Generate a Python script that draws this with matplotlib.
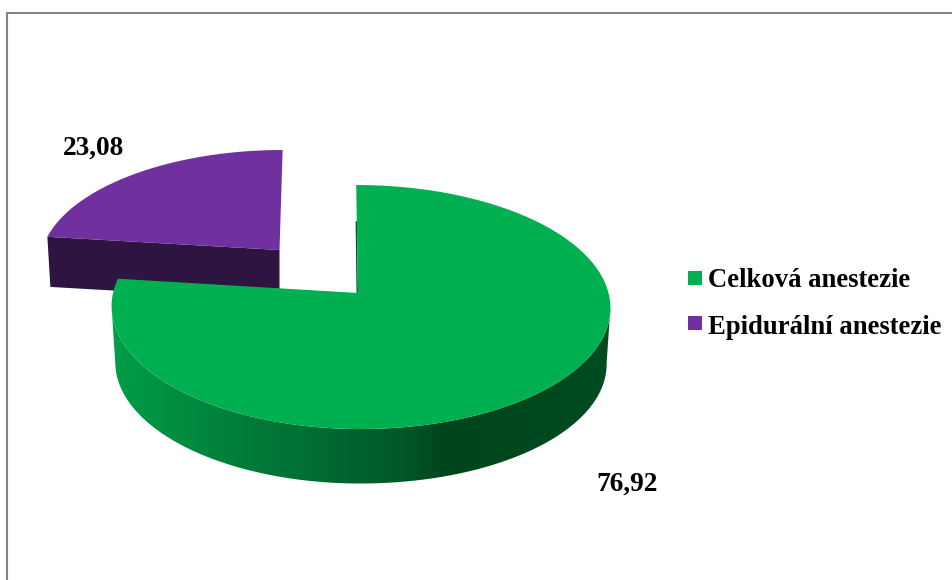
import numpy as np
import matplotlib
matplotlib.use("Agg")
import matplotlib.pyplot as plt
from matplotlib.colors import LinearSegmentedColormap
from matplotlib.patches import Polygon, Rectangle

categories = ["Celková anestezie", "Epidurální anestezie"]
values = [76.92, 23.08]
top_colors = ["#00B050", "#7030A0"]

W, H = 953, 580
plt.rcParams["font.family"] = ["Liberation Serif", "DejaVu Serif"]
fig = plt.figure(figsize=(W / 100, H / 100), dpi=100)
ax = fig.add_axes([0, 0, 1, 1])
ax.set_xlim(0, W)
ax.set_ylim(H, 0)
ax.axis("off")

# Perspective strength of the tilted pie plane
K = 0.115


def project(theta, apex, a_left, a_right, b, tilt=0.0, scale=1.0, drop=0.0):
    """Map clockwise-from-north angles (degrees) on the pie plane to the canvas."""
    t = np.radians(np.asarray(theta, dtype=float))
    u, v = np.sin(t), np.cos(t)
    w = 1 + K * v
    a = np.where(u < 0, a_left, a_right)
    x = apex[0] + scale * (a * u + tilt * v) / w
    y = apex[1] + drop - scale * b * v / w
    return x, y


def sector(theta0, theta1, geom, n=240):
    theta = np.linspace(theta0, theta1, n)
    x, y = project(theta, **geom)
    ax0, ay0 = geom["apex"][0], geom["apex"][1] + geom.get("drop", 0.0)
    return np.column_stack([np.r_[ax0, x], np.r_[ay0, y]])


# Slice angles follow the values
total = sum(values)
sweep_green = 360 * values[0] / total
sweep_purple = 360 * values[1] / total

green = dict(apex=(358, 293), a_left=245, a_right=250.5, b=120.4, tilt=-2.0)
purple = dict(apex=(279.5, 250), a_left=237.5, a_right=237.5, b=111.5, tilt=3.5)

# Purple slice: dark cut face first, then its top
px0, py0 = project(sweep_green, **purple)
px1, py1 = project(sweep_green, scale=0.987, drop=50, **purple)
cut = [(px0, py0), (purple["apex"][0], purple["apex"][1]),
       (purple["apex"][0], purple["apex"][1] + 50), (px1, py1)]
ax.add_patch(Polygon(cut, closed=True, fc="#2E1440", ec="none", zorder=2))
ax.add_patch(Polygon(sector(sweep_green, sweep_green + sweep_purple, purple),
                     closed=True, fc=top_colors[1], ec="none", zorder=3))

# Green slice: shaded rim with a horizontal gradient
rim_theta = np.linspace(96.6, 263.4, 300)
tx, ty = project(rim_theta, **green)
bx, by = project(rim_theta, scale=0.985, drop=56.5, **green)
rim = Polygon(np.column_stack([np.r_[tx, bx[::-1]], np.r_[ty, by[::-1]]]),
              closed=True, transform=ax.transData, fc="none", ec="none", zorder=4)
ax.add_patch(rim)
xs0, xs1 = 108.0, 612.0
stops = [(108, "#009E49"), (200, "#00873D"), (300, "#007033"),
         (400, "#005828"), (445, "#00451D"), (612, "#004C21")]
cmap = LinearSegmentedColormap.from_list(
    "rim", [((s - xs0) / (xs1 - xs0), c) for s, c in stops])
gradient = np.linspace(0, 1, 512).reshape(1, -1)
im = ax.imshow(gradient, cmap=cmap, extent=(xs0, xs1, 500, 280),
               aspect="auto", interpolation="bilinear", zorder=4)
im.set_clip_path(rim)
ax.set_xlim(0, W)
ax.set_ylim(H, 0)

ax.add_patch(Polygon(sector(0, sweep_green, green), closed=True,
                     fc=top_colors[0], ec="none", zorder=5))

# Sliver of the far cut face beside the apex
sx, sy = project(0, **green)
ax.plot([green["apex"][0] - 0.8, (green["apex"][0] + 2 * sx) / 3 - 0.5],
        [green["apex"][1], (green["apex"][1] + 2 * sy) / 3 + 1],
        color="#00562A", lw=1.0, zorder=4.5)

# Value labels
label_font = dict(fontweight="bold", fontsize=19.7, color="black", zorder=6)
ax.text(63, 155, f"{values[1]:.2f}".replace(".", ","), ha="left", va="baseline", **label_font)
ax.text(596, 491, f"{values[0]:.2f}".replace(".", ","), ha="left", va="baseline", **label_font)

# Legend entries
legend_font = dict(fontweight="bold", fontsize=19.15, color="black", zorder=6)
for name, colour, box_y, base_y in zip(categories, top_colors, (271, 316), (287, 334)):
    ax.add_patch(Rectangle((688, box_y), 14, 14, fc=colour, ec="none", zorder=6))
    ax.text(708, base_y, name, ha="left", va="baseline", **legend_font)

# Chart frame: only the top and left sides fall inside the canvas
frame = dict(color="#858585", lw=1.5, solid_capstyle="butt", zorder=1)
ax.plot([7, 7], [12, H], **frame)
ax.plot([6, W], [13, 13], **frame)

fig.savefig("out.png", dpi=100, facecolor="white")
